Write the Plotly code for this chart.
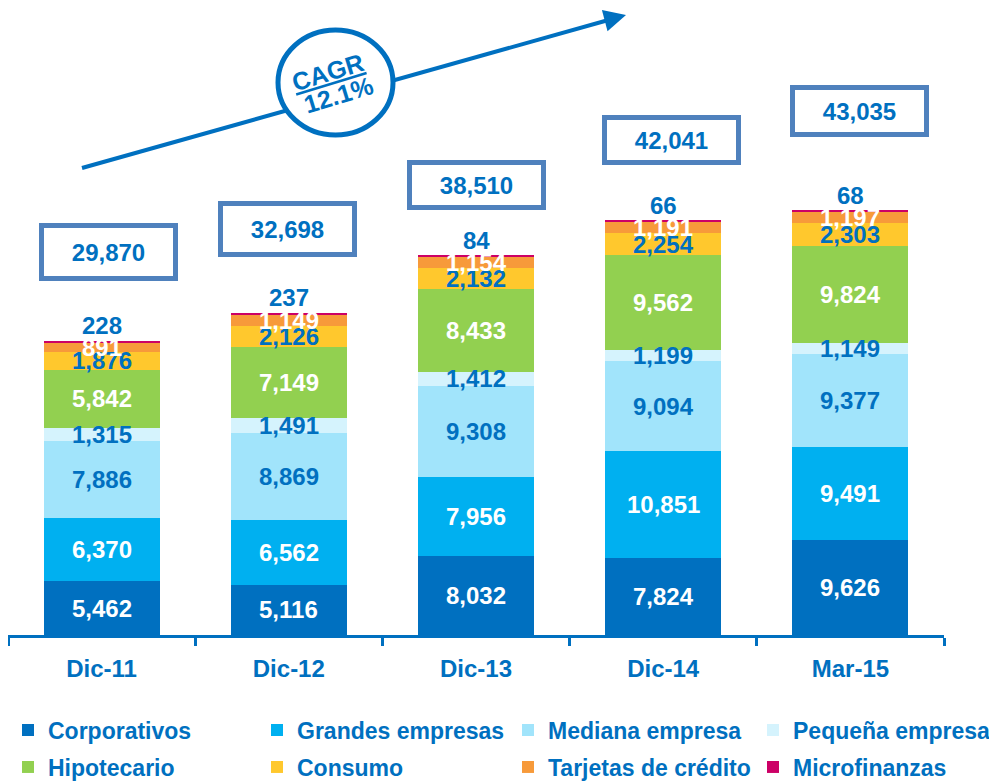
import plotly.graph_objects as go
import numpy as np

categories = ["Dic-11", "Dic-12", "Dic-13", "Dic-14", "Mar-15"]

corporativos = [5462, 5116, 8032, 7824, 9626]
grandes = [6370, 6562, 7956, 10851, 9491]
mediana = [7886, 8869, 9308, 9094, 9377]
pequena = [1315, 1491, 1412, 1199, 1149]
hipotecario = [5842, 7149, 8433, 9562, 9824]
consumo = [1876, 2126, 2132, 2254, 2303]
tarjetas = [891, 1149, 1154, 1191, 1197]
microfinanzas = [228, 237, 84, 66, 68]

totals = [29870, 32698, 38510, 42041, 43035]
cagr_label = "CAGR"
cagr_value = "12.1%"

BLUE = "#0070C0"
WHITE = "#FFFFFF"
FONT = "Liberation Sans"

# name, values, fill colour, label colour
series = [
    ("Corporativos", corporativos, "#0070C0", WHITE),
    ("Grandes empresas", grandes, "#00B0F0", WHITE),
    ("Mediana empresa", mediana, "#A1E4FB", BLUE),
    ("Pequeña empresa", pequena, "#D5F3FD", BLUE),
    ("Hipotecario", hipotecario, "#92D050", WHITE),
    ("Consumo", consumo, "#FFC82D", BLUE),
    ("Tarjetas de crédito", tarjetas, "#F79A3A", WHITE),
    ("Microfinanzas", microfinanzas, "#CC0066", BLUE),
]

# the page body adds an 8px margin, so the figure is a bit smaller than the window
O = 8
W, H = 997 - O, 783 - O
L, R, T, B = 0, 53, 0, 148
pw, ph = W - L - R, H - T - B


def px(x):
    # screen pixel -> paper x
    return (x - O - L) / pw


def py(y):
    # screen pixel -> paper y
    return (ph - (y - O - T)) / ph


fig = go.Figure()
annotations = []
base = np.zeros(len(categories))
legend_names = ["legend"] + [f"legend{k}" for k in range(2, 9)]

for k, (name, vals, color, lab_color) in enumerate(series):
    fig.add_trace(go.Bar(
        x=categories, y=vals, name=name,
        marker=dict(color=color, line=dict(width=0)),
        legend=legend_names[k], hoverinfo="x+y+name",
    ))
    for i, v in enumerate(vals):
        if name == "Microfinanzas":
            # tiny slice: label sits just above the stack
            annotations.append(dict(
                x=categories[i], y=base[i] + v, xref="x", yref="y",
                text=f"<b>{v:,}</b>", showarrow=False, yanchor="bottom", yshift=0,
                font=dict(family=FONT, size=24, color=lab_color)))
        else:
            annotations.append(dict(
                x=categories[i], y=base[i] + v / 2, xref="x", yref="y",
                text=f"<b>{v:,}</b>", showarrow=False,
                font=dict(family=FONT, size=24, color=lab_color)))
    base = base + np.array(vals)

# total boxes
box_yshift = [89, 84, 71, 81, 100]
box_xshift = [7, -1, 0, 8, 9]
box_h = [48, 46, 40, 40, 42]
for i, t in enumerate(totals):
    annotations.append(dict(
        x=categories[i], y=t, xref="x", yref="y", yanchor="middle", xanchor="center",
        xshift=box_xshift[i], yshift=box_yshift[i],
        text=f"<b>{t:,}</b>", showarrow=False, width=129, height=box_h[i],
        bordercolor="#4F81BD", borderwidth=5, borderpad=0, bgcolor=WHITE,
        font=dict(family=FONT, size=24, color=BLUE)))

shapes = [
    dict(type="line", xref="paper", yref="paper", x0=px(82), y0=py(168), x1=px(612), y1=py(19),
         line=dict(color=BLUE, width=4), layer="above"),
    dict(type="circle", xref="paper", yref="paper", x0=px(278), x1=px(393), y0=py(135), y1=py(30),
         line=dict(color=BLUE, width=5), fillcolor=WHITE, layer="above"),
]

# arrow head
annotations.append(dict(
    x=px(626), y=py(15), xref="paper", yref="paper", ax=-19, ay=5, axref="pixel", ayref="pixel",
    showarrow=True, arrowhead=2, arrowsize=1.1, arrowwidth=4, arrowcolor=BLUE, standoff=0, text=""))

annotations.append(dict(
    x=px(328), y=py(72), xref="paper", yref="paper", xanchor="center", yanchor="middle",
    showarrow=False, textangle=-17, text=f"<b><u>{cagr_label}</u></b>",
    font=dict(family=FONT, size=25, color=BLUE)))
annotations.append(dict(
    x=px(338), y=py(95), xref="paper", yref="paper", xanchor="center", yanchor="middle",
    showarrow=False, textangle=-17, text=f"<b>{cagr_value}</b>",
    font=dict(family=FONT, size=25, color=BLUE)))

# one legend per entry so the 4x2 grid sits where the reference has it
legend_font = dict(family=FONT, size=23, color=BLUE, weight="bold")
col_x = [3, 257, 508, 753]
row_y = [730, 767]
legends = {}
for k, lname in enumerate(legend_names):
    legends[lname] = dict(
        orientation="h", xref="container", yref="container",
        x=(col_x[k % 4] - O) / W, y=1 - (row_y[k // 4] - O) / H,
        yanchor="middle", xanchor="left", font=legend_font,
        itemclick=False, bgcolor="rgba(0,0,0,0)")

fig.update_layout(
    width=W, height=H,
    barmode="stack", bargap=0.38,
    margin=dict(l=L, r=R, t=T, b=B, autoexpand=False),
    plot_bgcolor=WHITE, paper_bgcolor=WHITE,
    xaxis=dict(type="category", showline=True, linecolor=BLUE, linewidth=3,
               ticks="outside", tickson="boundaries", ticklen=8, tickwidth=3, tickcolor=BLUE,
               ticklabelstandoff=10,
               tickfont=dict(family=FONT, size=24, color=BLUE, weight="bold"),
               showgrid=False, zeroline=False),
    yaxis=dict(visible=False, range=[0, ph / 0.009853], showgrid=False, zeroline=False),
    annotations=annotations,
    shapes=shapes,
    showlegend=True,
    **legends,
)

fig.write_html("out.html")
